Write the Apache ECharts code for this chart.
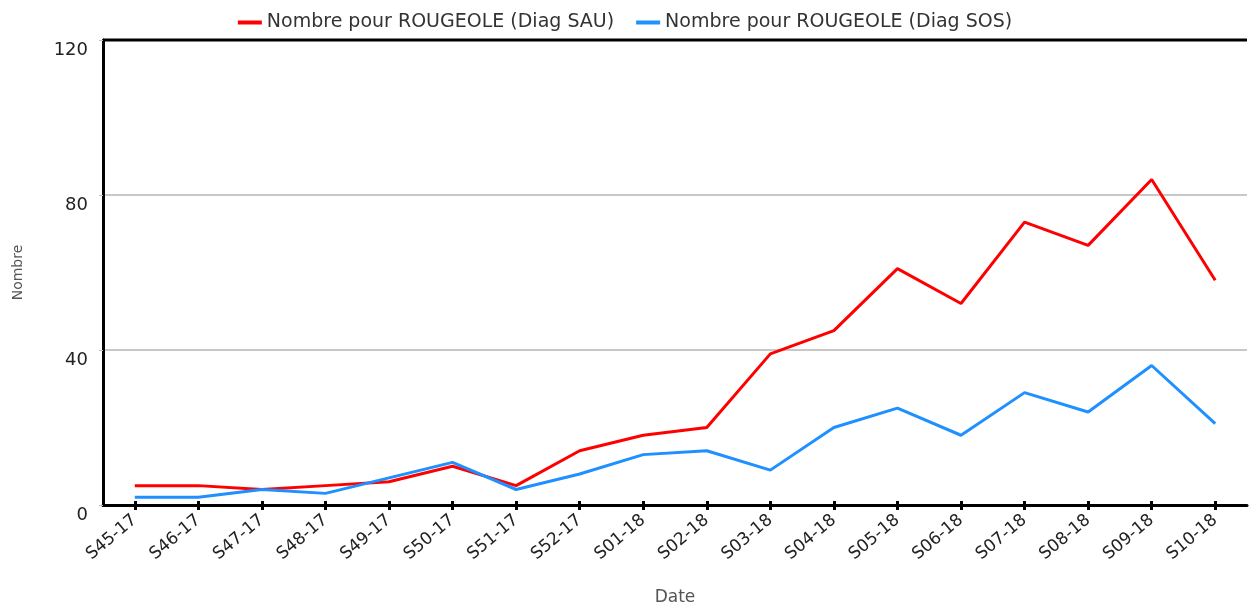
<!DOCTYPE html>
<html>
<head>
<meta charset="utf-8">
<script src="https://cdn.jsdelivr.net/npm/echarts@6/dist/echarts.min.js"></script>
<style>
  html, body { margin: 0; padding: 0; background: #fff; }
  #chart { width: 1250px; height: 604px; }
</style>
</head>
<body>
<div id="chart"></div>
<script>
// categories (weeks)
const weeks = [
  'S45-17', 'S46-17', 'S47-17', 'S48-17', 'S49-17', 'S50-17',
  'S51-17', 'S52-17', 'S01-18', 'S02-18', 'S03-18', 'S04-18',
  'S05-18', 'S06-18', 'S07-18', 'S08-18', 'S09-18', 'S10-18'
];
const sauValues = [5, 5, 4, 5, 6, 10, 5, 14, 18, 20, 39, 45, 61, 52, 73, 67, 84, 58];
const sosValues = [2, 2, 4, 3, 7, 11, 4, 8, 13, 14, 9, 20, 25, 18, 29, 24, 36, 21];
const yTicks = [0, 40, 80, 120];

const fontFamily = 'DejaVu Sans, Verdana, sans-serif';

const chart = echarts.init(document.getElementById('chart'));
const option = {
  animation: false,
  textStyle: { fontFamily: fontFamily },
  legend: {
    top: 8,
    left: 'center',
    itemWidth: 24,
    itemHeight: 4,
    itemGap: 22,
    icon: 'rect',
    textStyle: { fontSize: 19, color: '#333', fontFamily: fontFamily },
    data: ['Nombre pour ROUGEOLE (Diag SAU)', 'Nombre pour ROUGEOLE (Diag SOS)']
  },
  grid: { left: 103, right: 3, top: 40, bottom: 99, outerBoundsMode: 'none' },
  xAxis: [
    {
      type: 'category',
      data: weeks,
      boundaryGap: true,
      name: 'Date',
      nameLocation: 'middle',
      nameGap: 84,
      nameTextStyle: { fontSize: 17, color: '#555' },
      axisLine: { lineStyle: { color: '#000', width: 3 } },
      axisTick: { show: true, interval: 0, alignWithLabel: true, length: 5, lineStyle: { color: '#000', width: 3 } },
      axisLabel: { rotate: 40, fontSize: 17, color: '#222', margin: 13, interval: 0 },
      splitLine: { show: false }
    },
    {
      type: 'category',
      data: weeks,
      position: 'bottom',
      boundaryGap: true,
      axisLine: { show: false },
      axisTick: { show: true, interval: 0, inside: true, alignWithLabel: true, length: 4, lineStyle: { color: '#000', width: 3 } },
      axisLabel: { show: false },
      splitLine: { show: false }
    }
  ],
  yAxis: {
    type: 'value',
    min: yTicks[0],
    max: yTicks[yTicks.length - 1],
    interval: 40,
    name: 'Nombre',
    nameLocation: 'middle',
    nameGap: 78,
    nameTextStyle: { fontSize: 14, color: '#555' },
    axisLine: { show: true, lineStyle: { color: '#000', width: 3 } },
    axisTick: { show: true, length: 4, lineStyle: { color: '#bbb' } },
    axisLabel: { fontSize: 18, color: '#222', margin: 15, verticalAlign: 'top', lineHeight: 20 },
    splitLine: { lineStyle: { color: '#c8c8c8', width: 2 } }
  },
  series: [
    {
      name: 'Nombre pour ROUGEOLE (Diag SAU)',
      type: 'line',
      data: sauValues,
      symbol: 'none',
      color: '#ff0000',
      lineStyle: { width: 3, color: '#ff0000' }
    },
    {
      name: 'Nombre pour ROUGEOLE (Diag SOS)',
      type: 'line',
      data: sosValues,
      symbol: 'none',
      color: '#1e90ff',
      lineStyle: { width: 3, color: '#1e90ff' }
    }
  ],
  graphic: [
    {
      type: 'line',
      shape: { x1: 103, y1: 40, x2: 1247, y2: 40 },
      style: { stroke: '#000', lineWidth: 3 },
      z: 10
    }
  ]
};
chart.setOption(option);
window.addEventListener('resize', function () {
  chart.resize();
});
</script>
</body>
</html>
